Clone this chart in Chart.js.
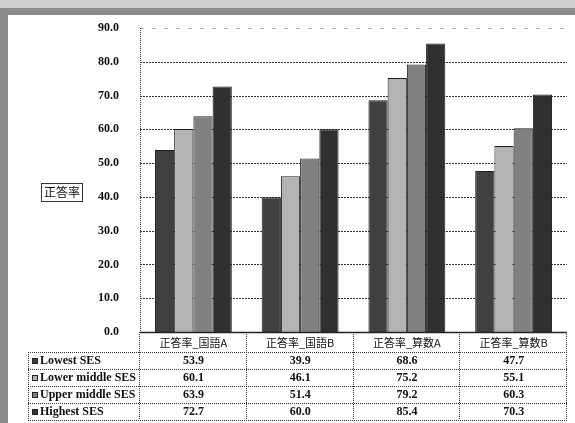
<!DOCTYPE html>
<html>
<head>
<meta charset="utf-8">
<script src="https://cdn.jsdelivr.net/npm/chart.js@4"></script>
<style>
  html, body { margin: 0; padding: 0; background: #ffffff; }
  #wrap { position: relative; width: 575px; height: 423px; }
</style>
</head>
<body>
<div id="wrap"><canvas id="c"></canvas></div>
<script>
// Subjects (columns) and the correct-answer rate for each SES group
const categories = ['正答率_国語A', '正答率_国語B', '正答率_算数A', '正答率_算数B'];
const seriesNames = ['Lowest SES', 'Lower middle SES', 'Upper middle SES', 'Highest SES'];
const lowestSES = [53.9, 39.9, 68.6, 47.7];
const lowerMiddleSES = [60.1, 46.1, 75.2, 55.1];
const upperMiddleSES = [63.9, 51.4, 79.2, 60.3];
const highestSES = [72.7, 60.0, 85.4, 70.3];
const yTickValues = [0, 10, 20, 30, 40, 50, 60, 70, 80, 90];
const yTitle = '正答率';

const seriesColors = ['#404040', '#b3b3b3', '#808080', '#303030'];
const seriesValues = [lowestSES, lowerMiddleSES, upperMiddleSES, highestSES];

const LATIN = "'Liberation Serif', 'DejaVu Serif', serif";
const CJK = "'Noto Sans CJK JP', 'Noto Sans CJK SC', sans-serif";

// Outer frame, grid lines, axis title box and the data table below the plot
const decorations = {
  id: 'decorations',
  beforeDraw(chart) {
    const ctx = chart.ctx;
    ctx.save();
    ctx.fillStyle = '#ffffff';
    ctx.fillRect(0, 0, chart.width, chart.height);
    // grey frame along the top and left edges
    ctx.fillStyle = '#d0d0d0';
    ctx.fillRect(0, 0, chart.width, 8);
    ctx.fillStyle = '#8c8c8c';
    ctx.fillRect(0, 8, chart.width, 7);
    ctx.fillRect(0, 8, 8, chart.height - 8);
    ctx.restore();
  },
  beforeDatasetsDraw(chart) {
    const ctx = chart.ctx;
    const y = chart.scales.y;
    const a = chart.chartArea;
    ctx.save();
    ctx.lineWidth = 1;
    yTickValues.forEach(v => {
      if (v === 0) return;
      const py = Math.round(y.getPixelForValue(v)) + 0.5;
      ctx.strokeStyle = v === 90 ? '#b0b0b0' : '#333333';
      ctx.setLineDash(v === 90 ? [4, 8] : [2, 1]);
      ctx.beginPath();
      ctx.moveTo(a.left, py);
      ctx.lineTo(a.right, py);
      ctx.stroke();
    });
    // left axis (dotted)
    ctx.strokeStyle = '#333333';
    ctx.setLineDash([1, 1]);
    ctx.beginPath();
    ctx.moveTo(a.left + 0.5, a.top);
    ctx.lineTo(a.left + 0.5, a.bottom);
    ctx.stroke();
    ctx.restore();
  },
  afterDraw(chart) {
    const ctx = chart.ctx;
    const x = chart.scales.x;
    const a = chart.chartArea;
    const colW = x.width / categories.length;
    ctx.save();

    // baseline
    ctx.strokeStyle = '#222222';
    ctx.lineWidth = 1.5;
    ctx.setLineDash([]);
    ctx.beginPath();
    ctx.moveTo(a.left, a.bottom + 0.5);
    ctx.lineTo(a.right, a.bottom + 0.5);
    ctx.stroke();

    // axis title box
    ctx.font = '12px ' + CJK;
    ctx.fillStyle = '#111111';
    ctx.textAlign = 'center';
    ctx.textBaseline = 'middle';
    ctx.fillText(yTitle, 62, 192);
    ctx.lineWidth = 1;
    ctx.strokeStyle = '#333333';
    ctx.strokeRect(41.5, 183.5, 41, 18);

    // table grid
    const labelLeft = 28;
    const headTop = a.bottom;
    const rowTops = [352, 369, 386, 403, 420];
    ctx.strokeStyle = '#333333';
    ctx.lineWidth = 1;
    ctx.setLineDash([1, 1]);
    rowTops.forEach(ry => {
      ctx.beginPath();
      ctx.moveTo(labelLeft, ry + 0.5);
      ctx.lineTo(a.right, ry + 0.5);
      ctx.stroke();
    });
    ctx.beginPath();
    ctx.moveTo(labelLeft + 0.5, rowTops[0]);
    ctx.lineTo(labelLeft + 0.5, rowTops[4]);
    ctx.stroke();
    for (let i = 0; i <= categories.length; i++) {
      const bx = Math.round(x.left + colW * i) - 0.5;
      ctx.beginPath();
      ctx.moveTo(bx, headTop);
      ctx.lineTo(bx, rowTops[4]);
      ctx.stroke();
    }
    ctx.setLineDash([]);

    // column headers
    ctx.fillStyle = '#111111';
    ctx.font = '11px ' + CJK;
    ctx.textAlign = 'center';
    categories.forEach((c, i) => {
      ctx.fillText(c, x.getPixelForValue(i), 343);
    });

    // rows: legend key, series name, values
    seriesNames.forEach((name, r) => {
      const cy = (rowTops[r] + rowTops[r + 1]) / 2 + 0.5;
      ctx.fillStyle = seriesColors[r];
      ctx.fillRect(32, Math.round(cy) - 3, 6, 6);
      ctx.strokeStyle = '#222222';
      ctx.strokeRect(32.5, Math.round(cy) - 2.5, 5, 5);
      ctx.fillStyle = '#111111';
      ctx.textAlign = 'left';
      ctx.font = 'bold 12px ' + LATIN;
      ctx.fillText(name, 40, cy);
      ctx.textAlign = 'center';
      ctx.font = 'bold 12px ' + LATIN;
      seriesValues[r].forEach((v, i) => {
        ctx.fillText(v.toFixed(1), x.getPixelForValue(i), cy);
      });
    });
    ctx.restore();
  }
};

new Chart(document.getElementById('c'), {
  type: 'bar',
  data: {
    labels: categories,
    datasets: seriesNames.map((n, i) => ({
      label: n,
      data: seriesValues[i],
      backgroundColor: seriesColors[i],
      borderColor: '#1e1e1e',
      borderWidth: 1,
      categoryPercentage: 0.72,
      barPercentage: 1.0
    }))
  },
  options: {
    responsive: true,
    maintainAspectRatio: false,
    animation: false,
    devicePixelRatio: 1,
    layout: { padding: { left: 0, right: 8, top: 28, bottom: 91 } },
    plugins: { legend: { display: false }, tooltip: { enabled: false } },
    scales: {
      x: { display: false },
      y: {
        min: 0,
        max: 90,
        afterFit(s) { s.width = 140; },
        afterBuildTicks(s) { s.ticks = yTickValues.map(v => ({ value: v })); },
        grid: { display: false },
        border: { display: false },
        ticks: {
          padding: 13,
          color: '#111111',
          font: { family: LATIN, size: 12, weight: 'bold' },
          callback: v => Number(v).toFixed(1)
        }
      }
    }
  },
  plugins: [decorations]
});
</script>
</body>
</html>
